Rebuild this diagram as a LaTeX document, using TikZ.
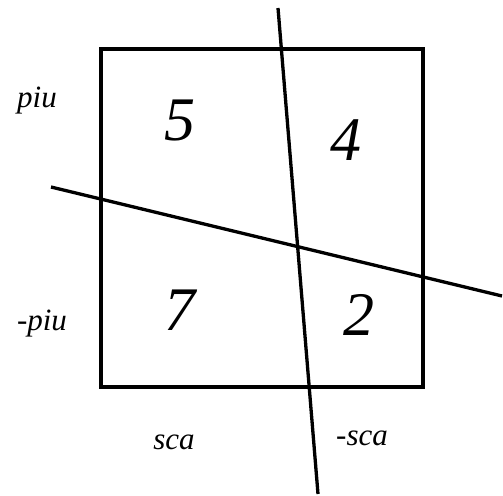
\documentclass[tikz,border=0pt]{standalone}
\usepackage{fontspec}
\setmainfont{Liberation Serif}
\usetikzlibrary{positioning}
\tikzset{
  cutline/.style={line width=3.3pt, draw=black},
  boxline/.style={line width=3.3pt, draw=black},
  digit/.style={font=\itshape\fontsize{62}{64}\selectfont, inner sep=0pt},
  axislabel/.style={font=\itshape\fontsize{31}{33}\selectfont, inner sep=0pt}
}
\begin{document}
\begin{tikzpicture}[x=1pt, y=-1pt]
  \useasboundingbox (0,0) rectangle (503,495);

  % the square
  \draw[boxline] (101,49) rectangle (423,387);

  % the two cutting lines
  \coordinate (vtop) at (278,8);
  \coordinate (vbot) at (318,494);
  \coordinate (hleft) at (51,187);
  \coordinate (hright) at (502,296);
  \draw[cutline] (vtop) -- (vbot);
  \draw[cutline] (hleft) -- (hright);

  % quadrant numbers
  \node[digit] (five) at (180,121) {5};
  \node[digit] (four) at (346,140) {4};
  \node[digit] (seven) at (180,310) {7};
  \node[digit] (two) at (359,315) {2};

  % side labels
  \node[axislabel] (piu) at (37,101) {piu};
  \node[axislabel] (mpiu) at (42,324) {-piu};
  \node[axislabel] (sca) at (174,442) {sca};
  \node[axislabel] (msca) at (362,438) {-sca};
\end{tikzpicture}
\end{document}
